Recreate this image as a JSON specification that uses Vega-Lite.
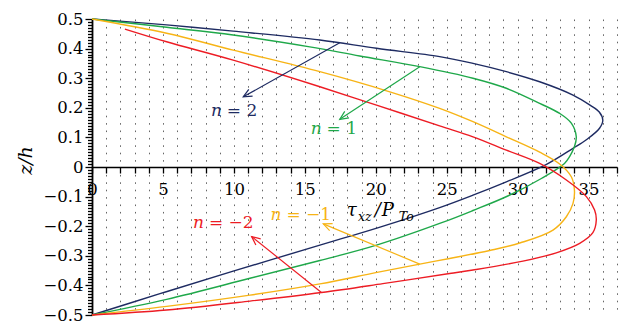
{
  "$schema": "https://vega.github.io/schema/vega-lite/v6.json",
  "width": 525,
  "height": 296,
  "autosize": {"type": "none"},
  "padding": {"left": 92, "top": 19, "right": 13, "bottom": 9},
  "background": "white",
  "config": {"view": {"stroke": null}, "font": "DejaVu Serif"},
  "datasets": {
    "curves": [
      {"n": "2", "tau": 0, "z": 0.5}, {"n": "2", "tau": 5.26, "z": 0.48}, {"n": "2", "tau": 9.95, "z": 0.459},
      {"n": "2", "tau": 16.06, "z": 0.429}, {"n": "2", "tau": 20.05, "z": 0.401}, {"n": "2", "tau": 24.5, "z": 0.373},
      {"n": "2", "tau": 26.85, "z": 0.35}, {"n": "2", "tau": 29.2, "z": 0.322}, {"n": "2", "tau": 31.55, "z": 0.288},
      {"n": "2", "tau": 33.9, "z": 0.243}, {"n": "2", "tau": 35.07, "z": 0.21}, {"n": "2", "tau": 35.75, "z": 0.186},
      {"n": "2", "tau": 36.0, "z": 0.158}, {"n": "2", "tau": 35.77, "z": 0.131}, {"n": "2", "tau": 34.84, "z": 0.092},
      {"n": "2", "tau": 33.9, "z": 0.063}, {"n": "2", "tau": 32.0, "z": 0.008}, {"n": "2", "tau": 29.2, "z": -0.05},
      {"n": "2", "tau": 26.85, "z": -0.095}, {"n": "2", "tau": 24.5, "z": -0.137}, {"n": "2", "tau": 20.3, "z": -0.203},
      {"n": "2", "tau": 16.06, "z": -0.264}, {"n": "2", "tau": 9.95, "z": -0.352}, {"n": "2", "tau": 4.79, "z": -0.428},
      {"n": "2", "tau": 0, "z": -0.5},

      {"n": "1", "tau": 0, "z": 0.5}, {"n": "1", "tau": 5.26, "z": 0.472}, {"n": "1", "tau": 9.95, "z": 0.446},
      {"n": "1", "tau": 15.35, "z": 0.406}, {"n": "1", "tau": 18.87, "z": 0.375}, {"n": "1", "tau": 23.1, "z": 0.339},
      {"n": "1", "tau": 26.85, "z": 0.3}, {"n": "1", "tau": 29.2, "z": 0.266}, {"n": "1", "tau": 31.55, "z": 0.215},
      {"n": "1", "tau": 32.96, "z": 0.181}, {"n": "1", "tau": 33.78, "z": 0.148}, {"n": "1", "tau": 34.13, "z": 0.102},
      {"n": "1", "tau": 34.0, "z": 0.069}, {"n": "1", "tau": 33.66, "z": 0.035}, {"n": "1", "tau": 33.3, "z": 0.012},
      {"n": "1", "tau": 31.7, "z": -0.038}, {"n": "1", "tau": 29.3, "z": -0.098}, {"n": "1", "tau": 26.85, "z": -0.147},
      {"n": "1", "tau": 24.6, "z": -0.189}, {"n": "1", "tau": 20.05, "z": -0.264}, {"n": "1", "tau": 16.06, "z": -0.316},
      {"n": "1", "tau": 11.13, "z": -0.376}, {"n": "1", "tau": 5.26, "z": -0.447}, {"n": "1", "tau": 0, "z": -0.5},

      {"n": "-1", "tau": 0, "z": 0.5}, {"n": "-1", "tau": 5.26, "z": 0.452}, {"n": "-1", "tau": 9.95, "z": 0.395},
      {"n": "-1", "tau": 16.06, "z": 0.322}, {"n": "-1", "tau": 20.99, "z": 0.254}, {"n": "-1", "tau": 24.5, "z": 0.198},
      {"n": "-1", "tau": 26.85, "z": 0.153}, {"n": "-1", "tau": 29.2, "z": 0.102}, {"n": "-1", "tau": 31.55, "z": 0.05},
      {"n": "-1", "tau": 32.96, "z": 0.01}, {"n": "-1", "tau": 33.78, "z": -0.033}, {"n": "-1", "tau": 34.0, "z": -0.078},
      {"n": "-1", "tau": 33.9, "z": -0.123}, {"n": "-1", "tau": 33.43, "z": -0.168}, {"n": "-1", "tau": 32.49, "z": -0.213},
      {"n": "-1", "tau": 30.2, "z": -0.256}, {"n": "-1", "tau": 28.03, "z": -0.282}, {"n": "-1", "tau": 25.2, "z": -0.309},
      {"n": "-1", "tau": 23.1, "z": -0.328}, {"n": "-1", "tau": 20.0, "z": -0.357}, {"n": "-1", "tau": 16.06, "z": -0.395},
      {"n": "-1", "tau": 11.13, "z": -0.433}, {"n": "-1", "tau": 5.26, "z": -0.471}, {"n": "-1", "tau": 0, "z": -0.5},

      {"n": "-2", "tau": 2.32, "z": 0.466}, {"n": "-2", "tau": 5.26, "z": 0.423}, {"n": "-2", "tau": 9.95, "z": 0.361},
      {"n": "-2", "tau": 16.06, "z": 0.271}, {"n": "-2", "tau": 20.05, "z": 0.209}, {"n": "-2", "tau": 24.5, "z": 0.139},
      {"n": "-2", "tau": 26.85, "z": 0.102}, {"n": "-2", "tau": 29.2, "z": 0.057}, {"n": "-2", "tau": 31.55, "z": 0.012},
      {"n": "-2", "tau": 33.43, "z": -0.044}, {"n": "-2", "tau": 34.84, "z": -0.1}, {"n": "-2", "tau": 35.42, "z": -0.145},
      {"n": "-2", "tau": 35.54, "z": -0.179}, {"n": "-2", "tau": 35.3, "z": -0.222}, {"n": "-2", "tau": 34.37, "z": -0.258},
      {"n": "-2", "tau": 32.72, "z": -0.29}, {"n": "-2", "tau": 30.37, "z": -0.318}, {"n": "-2", "tau": 26.85, "z": -0.348},
      {"n": "-2", "tau": 25.2, "z": -0.36}, {"n": "-2", "tau": 20.5, "z": -0.394}, {"n": "-2", "tau": 16.17, "z": -0.424},
      {"n": "-2", "tau": 11.13, "z": -0.453}, {"n": "-2", "tau": 5.26, "z": -0.483}, {"n": "-2", "tau": 0, "z": -0.5}
    ],
    "arrows": [
      {"n": "2", "x0": 17.46, "z0": 0.42, "x1": 10.66, "z1": 0.237},
      {"n": "1", "x0": 23.1, "z0": 0.339, "x1": 17.46, "z1": 0.161},
      {"n": "-1", "x0": 23.1, "z0": -0.328, "x1": 16.3, "z1": -0.192},
      {"n": "-2", "x0": 16.17, "z0": -0.424, "x1": 11.25, "z1": -0.235}
    ],
    "labels": [
      {"n": "2", "x": 9.15, "z": 0.189, "rest": "= 2"},
      {"n": "1", "x": 16.18, "z": 0.127, "rest": "= 1"},
      {"n": "-1", "x": 13.35, "z": -0.162, "rest": "= −1"},
      {"n": "-2", "x": 7.89, "z": -0.19, "rest": "= −2"}
    ],
    "titleMain": [
      {"t": "τ", "x": 17.96, "z": -0.166},
      {"t": "/", "x": 19.93, "z": -0.166},
      {"t": "P", "x": 20.42, "z": -0.166}
    ],
    "titleSub": [
      {"t": "xz", "x": 18.75, "z": -0.182},
      {"t": "To", "x": 21.62, "z": -0.182}
    ]
  },
  "layer": [
    {
      "data": {"name": "curves"},
      "mark": {"type": "line", "interpolate": "catmull-rom", "strokeWidth": 1.4},
      "encoding": {
        "x": {
          "field": "tau", "type": "quantitative",
          "scale": {"domain": [0, 37], "nice": false, "zero": false},
          "axis": {
            "title": null,
            "offset": -148,
            "tickCount": 200,
            "values": [0,1,2,3,4,5,6,7,8,9,10,11,12,13,14,15,16,17,18,19,20,21,22,23,24,25,26,27,28,29,30,31,32,33,34,35,36,37],
            "labelExpr": "datum.value % 5 === 0 ? format(datum.value, 'd') : ''",
            "labelOverlap": false,
            "labelFlush": false,
            "labelFont": "DejaVu Serif",
            "labelFontSize": 16.5,
            "labelColor": "black",
            "labelPadding": 8,
            "tickSize": 6,
            "tickColor": "black",
            "tickWidth": 1.3,
            "domainColor": "black",
            "domainWidth": 1.6,
            "grid": true,
            "gridColor": "#666",
            "gridWidth": 1,
            "gridDash": [1.6, 5.8]
          }
        },
        "y": {
          "field": "z", "type": "quantitative",
          "scale": {"domain": [-0.5, 0.5], "nice": false, "zero": false},
          "axis": {
            "title": "z/h",
            "titleFont": "DejaVu Serif",
            "titleFontStyle": "italic",
            "titleFontWeight": "normal",
            "titleFontSize": 19,
            "titleColor": "black",
            "titleX": -67,
            "titleY": 141,
            "titleBaseline": "middle",
            "titleAlign": "center",
            "tickCount": 200,
            "values": [-0.5,-0.49,-0.48,-0.47,-0.46,-0.45,-0.44,-0.43,-0.42,-0.41,-0.4,-0.39,-0.38,-0.37,-0.36,-0.35,-0.34,-0.33,-0.32,-0.31,-0.3,-0.29,-0.28,-0.27,-0.26,-0.25,-0.24,-0.23,-0.22,-0.21,-0.2,-0.19,-0.18,-0.17,-0.16,-0.15,-0.14,-0.13,-0.12,-0.11,-0.1,-0.09,-0.08,-0.07,-0.06,-0.05,-0.04,-0.03,-0.02,-0.01,0,0.01,0.02,0.03,0.04,0.05,0.06,0.07,0.08,0.09,0.1,0.11,0.12,0.13,0.14,0.15,0.16,0.17,0.18,0.19,0.2,0.21,0.22,0.23,0.24,0.25,0.26,0.27,0.28,0.29,0.3,0.31,0.32,0.33,0.34,0.35,0.36,0.37,0.38,0.39,0.4,0.41,0.42,0.43,0.44,0.45,0.46,0.47,0.48,0.49,0.5],
            "labelExpr": "abs(datum.value * 10 - round(datum.value * 10)) < 0.001 ? (datum.value == 0 ? '0' : replace(format(datum.value, '.1f'), '-', '−')) : ''",
            "labelOverlap": false,
            "labelFlush": false,
            "labelFont": "DejaVu Serif",
            "labelFontSize": 16.5,
            "labelColor": "black",
            "labelPadding": 2,
            "tickSize": {"condition": {"test": "abs(datum.value * 10 - round(datum.value * 10)) < 0.001", "value": 7}, "value": 4.5},
            "tickColor": "black",
            "tickWidth": 1.3,
            "domainColor": "black",
            "domainWidth": 1.8,
            "grid": false
          }
        },
        "color": {
          "field": "n", "type": "nominal",
          "scale": {"domain": ["2", "1", "-1", "-2"], "range": ["#1e2b62", "#1fa84a", "#f7b416", "#ed1c24"]},
          "legend": null
        },
        "order": {"field": "z", "sort": "descending"}
      }
    },
    {
      "data": {"name": "arrows"},
      "mark": {"type": "rule", "strokeWidth": 1.2},
      "encoding": {
        "x": {"field": "x0", "type": "quantitative"},
        "y": {"field": "z0", "type": "quantitative"},
        "x2": {"field": "x1"},
        "y2": {"field": "z1"},
        "color": {"field": "n", "type": "nominal", "legend": null}
      }
    },
    {
      "data": {"name": "arrows"},
      "transform": [
        {"calculate": "atan2((datum.x1 - datum.x0) * 14.19, (datum.z1 - datum.z0) * 296) * 180 / PI", "as": "heading"}
      ],
      "mark": {"type": "point", "shape": "M -0.5 1.1 L 0 0 L 0.5 1.1", "filled": false, "size": 240, "strokeWidth": 1.2, "opacity": 1},
      "encoding": {
        "x": {"field": "x1", "type": "quantitative"},
        "y": {"field": "z1", "type": "quantitative"},
        "angle": {"field": "heading", "type": "quantitative", "scale": null},
        "color": {"field": "n", "type": "nominal", "legend": null}
      }
    },
    {
      "data": {"name": "labels"},
      "mark": {"type": "text", "align": "right", "baseline": "middle", "fontStyle": "italic", "fontSize": 17, "font": "DejaVu Serif"},
      "encoding": {
        "x": {"field": "x", "type": "quantitative"},
        "y": {"field": "z", "type": "quantitative"},
        "text": {"value": "n"},
        "color": {"field": "n", "type": "nominal", "legend": null}
      }
    },
    {
      "data": {"name": "labels"},
      "mark": {"type": "text", "align": "left", "baseline": "middle", "dx": 5, "fontSize": 17, "font": "DejaVu Serif"},
      "encoding": {
        "x": {"field": "x", "type": "quantitative"},
        "y": {"field": "z", "type": "quantitative"},
        "text": {"field": "rest"},
        "color": {"field": "n", "type": "nominal", "legend": null}
      }
    },
    {
      "data": {"name": "titleMain"},
      "mark": {"type": "text", "align": "left", "baseline": "alphabetic", "fontStyle": "italic", "fontSize": 18, "font": "DejaVu Serif", "color": "black"},
      "encoding": {
        "x": {"field": "x", "type": "quantitative"},
        "y": {"field": "z", "type": "quantitative"},
        "text": {"field": "t"}
      }
    },
    {
      "data": {"name": "titleSub"},
      "mark": {"type": "text", "align": "left", "baseline": "alphabetic", "fontStyle": "italic", "fontSize": 12.5, "font": "DejaVu Serif", "color": "black"},
      "encoding": {
        "x": {"field": "x", "type": "quantitative"},
        "y": {"field": "z", "type": "quantitative"},
        "text": {"field": "t"}
      }
    }
  ]
}
